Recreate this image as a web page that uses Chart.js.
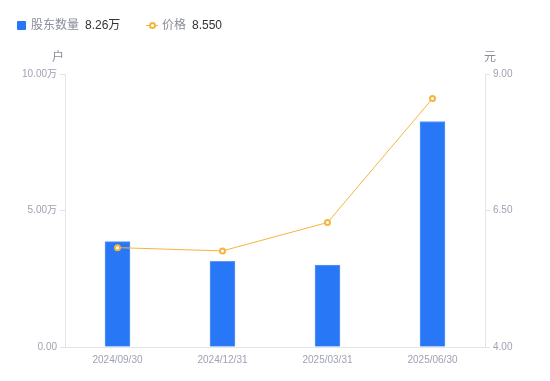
<!DOCTYPE html>
<html><head><meta charset="utf-8">
<script src="https://cdn.jsdelivr.net/npm/chart.js@4/dist/chart.umd.min.js"></script>
<style>
html,body{margin:0;padding:0;background:#fff;}
#wrap{position:relative;width:550px;height:381px;}
#legend{position:absolute;left:0;top:0;font-family:"Liberation Sans",Arial,"Noto Sans CJK SC",sans-serif;font-size:12px;}
.item{position:absolute;top:18px;white-space:nowrap;line-height:15px;}
.name{color:#8a8d99;}
.val{color:#333;margin-left:6px;}
</style></head>
<body>
<div id="wrap">
<canvas id="c" width="550" height="381"></canvas>
<div id="legend">
  <div class="item" style="left:17px;"><span style="display:inline-block;width:9px;height:9px;background:#2777F6;border-radius:1px;vertical-align:-1px;margin-right:5px;"></span><span class="name">股东数量</span><span class="val">8.26万</span></div>
  <div class="item" style="left:146px;"><span style="display:inline-block;position:relative;width:12px;height:9px;vertical-align:-1px;margin-right:4px;"><span style="position:absolute;left:0;top:4px;width:12px;height:1px;background:#F5B53D;"></span><span style="position:absolute;left:3px;top:1px;width:3px;height:3px;border:2px solid #F5B53D;border-radius:50%;background:#fff;"></span></span><span class="name">价格</span><span class="val">8.550</span></div>
</div>
</div>
<script>
const categories = ['2024/09/30','2024/12/31','2025/03/31','2025/06/30'];
const holders = [3.86, 3.14, 3.00, 8.26];   // 万户
const prices = [5.82, 5.76, 6.28, 8.55];    // 元
const leftTicks = [0, 5, 10];
const rightTicks = [4.0, 6.5, 9.0];

const axisColor = '#e3e4ea';
const tickColor = '#9fa2b2';
const font = {family: '"Liberation Sans", Arial, "Noto Sans CJK SC", sans-serif', size: 10};

const titlePlugin = {
  id: 'axisTitles',
  afterDraw(chart) {
    const ctx = chart.ctx;
    const a = chart.chartArea;
    ctx.save();
    ctx.font = '12px "Liberation Sans", Arial, "Noto Sans CJK SC", sans-serif';
    ctx.fillStyle = '#8a8d99';
    ctx.textBaseline = 'middle';
    ctx.textAlign = 'right';
    ctx.fillText('户', a.left - 1, a.top - 16);
    ctx.textAlign = 'left';
    ctx.fillText('元', a.right - 1, a.top - 16);
    ctx.restore();
  }
};

new Chart(document.getElementById('c'), {
  data: {
    labels: categories,
    datasets: [
      {
        type: 'line', label: '价格', data: prices, yAxisID: 'y1', order: 0,
        borderColor: '#F5B53D', borderWidth: 1, pointRadius: 2.5, pointBorderWidth: 2,
        pointBackgroundColor: '#fff', pointBorderColor: '#F5B53D', tension: 0
      },
      {
        type: 'bar', label: '股东数量', data: holders, yAxisID: 'y', order: 1,
        backgroundColor: '#2777F6', borderColor: '#5a97f8', borderWidth: {top:1,left:1,right:1,bottom:0},
        barThickness: 25
      }
    ]
  },
  options: {
    responsive: false, animation: false,
    layout: {padding: {top: 74, bottom: 0, left: 0, right: 0}},
    plugins: {legend: {display: false}, tooltip: {enabled: false}},
    scales: {
      x: {
        offset: true,
        grid: {display: false, drawTicks: false},
        border: {display: true, color: axisColor},
        ticks: {color: tickColor, font: font, padding: 7, maxRotation: 0},
        afterFit(s) { s.height = 34; }
      },
      y: {
        position: 'left', min: 0, max: 10,
        afterBuildTicks(s) { s.ticks = leftTicks.map(v => ({value: v})); },
        grid: {drawOnChartArea: false, tickLength: 5, color: axisColor},
        border: {display: true, color: axisColor},
        ticks: {color: tickColor, font: font, padding: 3,
          callback: v => v === 0 ? '0.00' : v.toFixed(2) + '万'},
        afterFit(s) { s.width = 65; }
      },
      y1: {
        position: 'right', min: 4, max: 9,
        afterBuildTicks(s) { s.ticks = rightTicks.map(v => ({value: v})); },
        grid: {drawOnChartArea: false, tickLength: 5, color: axisColor},
        border: {display: true, color: axisColor},
        ticks: {color: tickColor, font: font, padding: 3, callback: v => v.toFixed(2)},
        afterFit(s) { s.width = 65; }
      }
    }
  },
  plugins: [titlePlugin]
});
</script>
</body></html>
